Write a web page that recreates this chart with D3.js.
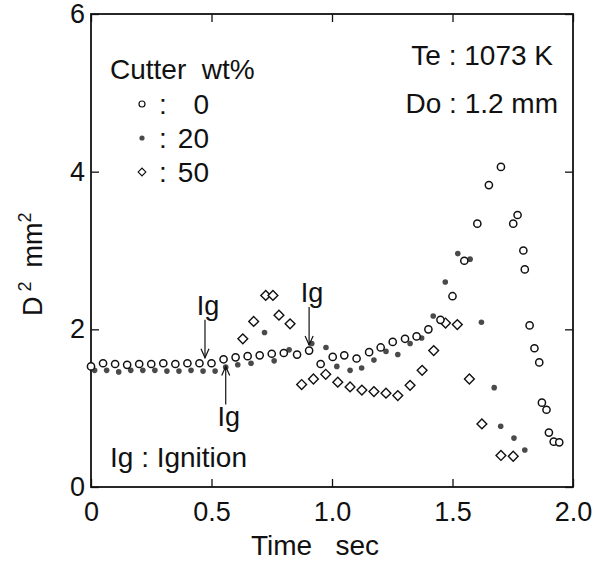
<!DOCTYPE html>
<html>
<head>
<meta charset="utf-8">
<script src="https://cdn.jsdelivr.net/npm/d3@7"></script>
<style>
  body { margin: 0; background: #fff; }
  svg text { font-family: "Liberation Sans", Arial, sans-serif; fill: #111; }
</style>
</head>
<body>
<div id="chart"></div>
<script>
// Data: time (sec) and D^2 (mm^2) for each cutter content
var cutter0Time = [0.0, 0.05, 0.1, 0.15, 0.2, 0.25, 0.3, 0.35, 0.4, 0.45, 0.5, 0.55, 0.6, 0.65, 0.7, 0.75, 0.8, 0.855, 0.905,
  0.953, 1.003, 1.051, 1.102, 1.154, 1.202, 1.252, 1.303, 1.351, 1.4, 1.45, 1.5, 1.549, 1.603, 1.651, 1.701, 1.752, 1.77,
  1.794, 1.8, 1.82, 1.84, 1.86, 1.871, 1.89, 1.9, 1.92, 1.943];
var cutter0D2 = [1.53, 1.57, 1.56, 1.55, 1.56, 1.56, 1.57, 1.56, 1.57, 1.57, 1.57, 1.62, 1.645, 1.66, 1.67, 1.69, 1.70, 1.68, 1.73,
  1.56, 1.65, 1.67, 1.63, 1.71, 1.77, 1.84, 1.88, 1.91, 2.0, 2.12, 2.42, 2.87, 3.34, 3.83, 4.06, 3.34, 3.45,
  3.0, 2.76, 2.05, 1.76, 1.58, 1.07, 0.98, 0.69, 0.575, 0.567];

var cutter20Time = [0.015, 0.065, 0.115, 0.165, 0.215, 0.265, 0.315, 0.365, 0.415, 0.465, 0.515, 0.559, 0.609, 0.664, 0.72, 0.76,
  0.822, 0.916, 0.975, 1.02, 1.075, 1.123, 1.174, 1.224, 1.273, 1.324, 1.372, 1.42, 1.47, 1.522, 1.573, 1.62, 1.673, 1.7,
  1.755, 1.8];
var cutter20D2 = [1.48, 1.48, 1.46, 1.48, 1.48, 1.48, 1.47, 1.47, 1.48, 1.47, 1.47, 1.52, 1.55, 1.57, 1.96, 1.60,
  1.74, 1.82, 1.77, 1.53, 1.48, 1.51, 1.61, 1.72, 1.68, 1.82, 1.89, 2.17, 2.60, 2.96, 2.89, 2.09, 1.26, 0.77,
  0.62, 0.47];

var cutter50Time = [0.63, 0.675, 0.725, 0.755, 0.78, 0.826, 0.874, 0.923, 0.974, 1.024, 1.075, 1.124, 1.174, 1.224, 1.273,
  1.324, 1.374, 1.422, 1.471, 1.52, 1.57, 1.622, 1.701, 1.752];
var cutter50D2 = [1.88, 2.10, 2.43, 2.43, 2.18, 2.07, 1.30, 1.37, 1.43, 1.33, 1.27, 1.23, 1.21, 1.19, 1.16,
  1.29, 1.48, 1.73, 2.08, 2.06, 1.37, 0.80, 0.40, 0.39];

// ignition marks: [time, D^2 at arrow tip, direction]
var ignitionTime = [0.473, 0.559, 0.905];
var ignitionD2 = [1.64, 1.53, 1.80];
var ignitionDir = ["down", "up", "down"];

var xTicks = [0, 0.5, 1.0, 1.5, 2.0];
var yTicks = [0, 2, 4, 6];

var svgWidth = 602;
var svgHeight = 567;

var margin = { top: 14, right: 29, bottom: 80, left: 91 };
var width = svgWidth - margin.left - margin.right;
var height = svgHeight - margin.top - margin.bottom;

var svg = d3.select("#chart")
  .append("svg")
  .attr("width", svgWidth)
  .attr("height", svgHeight);

var chartGroup = svg.append("g")
  .attr("transform", `translate(${margin.left}, ${margin.top})`);

var xScale = d3.scaleLinear().domain([0, 2]).range([0, width]);
var yScale = d3.scaleLinear().domain([0, 6]).range([height, 0]);

var fmtX = d => d === 0 ? "0" : d3.format(".1f")(d);

// axes with inward ticks
var bottomAxis = d3.axisBottom(xScale).tickValues(xTicks).tickFormat(fmtX)
  .tickSizeInner(-8).tickSizeOuter(0).tickPadding(15);
var topAxis = d3.axisTop(xScale).tickValues(xTicks).tickFormat("")
  .tickSizeInner(-8).tickSizeOuter(0);
var leftAxis = d3.axisLeft(yScale).tickValues(yTicks).tickFormat(d3.format("d"))
  .tickSizeInner(-8).tickSizeOuter(0).tickPadding(6);
var rightAxis = d3.axisRight(yScale).tickValues(yTicks).tickFormat("")
  .tickSizeInner(-8).tickSizeOuter(0);

function styleAxis(g) {
  g.select(".domain").remove();
  g.selectAll("line").attr("stroke", "#111").attr("stroke-width", 1.3);
  g.selectAll("text").attr("font-size", "27px").attr("fill", "#111")
    .style("font-family", "'Liberation Sans', Arial, sans-serif");
}

chartGroup.append("g").attr("transform", `translate(0, ${height})`).call(bottomAxis).call(styleAxis);
chartGroup.append("g").call(topAxis).call(styleAxis);
chartGroup.append("g").call(leftAxis).call(styleAxis);
chartGroup.append("g").attr("transform", `translate(${width}, 0)`).call(rightAxis).call(styleAxis);

// frame
chartGroup.append("rect")
  .attr("width", width)
  .attr("height", height)
  .attr("fill", "none")
  .attr("stroke", "#111")
  .attr("stroke-width", 1.8);

// series
var data0 = cutter0Time.map((t, i) => ({ t: t, v: cutter0D2[i] }));
var data20 = cutter20Time.map((t, i) => ({ t: t, v: cutter20D2[i] }));
var data50 = cutter50Time.map((t, i) => ({ t: t, v: cutter50D2[i] }));

var diamond = d3.symbol().type(d3.symbolSquare).size(48);

chartGroup.selectAll(".c50")
  .data(data50)
  .enter()
  .append("path")
  .attr("d", diamond)
  .attr("transform", d => `translate(${xScale(d.t)}, ${yScale(d.v)}) rotate(45)`)
  .attr("fill", "#fff")
  .attr("stroke", "#111")
  .attr("stroke-width", 1.4);

chartGroup.selectAll(".c20")
  .data(data20)
  .enter()
  .append("circle")
  .attr("cx", d => xScale(d.t))
  .attr("cy", d => yScale(d.v))
  .attr("r", 2.8)
  .attr("fill", "#4a4a4a");

chartGroup.selectAll(".c0")
  .data(data0)
  .enter()
  .append("circle")
  .attr("cx", d => xScale(d.t))
  .attr("cy", d => yScale(d.v))
  .attr("r", 3.6)
  .attr("fill", "#fff")
  .attr("stroke", "#111")
  .attr("stroke-width", 1.5);

// ignition arrows + labels
ignitionTime.forEach(function(t, i) {
  var ax = xScale(t);
  var tip = yScale(ignitionD2[i]);
  var sign = ignitionDir[i] === "down" ? -1 : 1;
  var tail = tip + sign * 38;
  var g = chartGroup.append("g").attr("stroke", "#111").attr("stroke-width", 1.2).attr("fill", "none");
  g.append("line").attr("x1", ax).attr("x2", ax).attr("y1", tail).attr("y2", tip);
  g.append("path").attr("d", `M${ax - 4},${tip + sign * 9} L${ax},${tip} L${ax + 4},${tip + sign * 9}`);
  chartGroup.append("text")
    .attr("x", ax + 3)
    .attr("y", ignitionDir[i] === "down" ? tail - 5 : tail + 22)
    .attr("text-anchor", "middle")
    .attr("font-size", "27px")
    .text("Ig");
});

// legend
svg.append("text").attr("x", 110).attr("y", 79).attr("font-size", "28px")
  .style("white-space", "pre").text("Cutter  wt%");

var legendY = [104, 138, 172];
var legendLab = ["0", "20", "50"];
svg.append("circle").attr("cx", 142).attr("cy", legendY[0]).attr("r", 3)
  .attr("fill", "#fff").attr("stroke", "#111").attr("stroke-width", 1.2);
svg.append("circle").attr("cx", 142).attr("cy", legendY[1]).attr("r", 2.6).attr("fill", "#4a4a4a");
svg.append("path").attr("d", d3.symbol().type(d3.symbolSquare).size(30))
  .attr("transform", `translate(142, ${legendY[2]}) rotate(45)`)
  .attr("fill", "#fff").attr("stroke", "#111").attr("stroke-width", 1.1);
legendLab.forEach(function(l, i) {
  svg.append("text").attr("x", 159).attr("y", legendY[i] + 10).attr("font-size", "28px").text(":");
  svg.append("text").attr("x", 209).attr("y", legendY[i] + 10).attr("font-size", "28px")
    .attr("text-anchor", "end").text(l);
});

// conditions
svg.append("text").attr("x", 553).attr("y", 65).attr("text-anchor", "end").attr("font-size", "28px").text("Te : 1073 K");
svg.append("text").attr("x", 558).attr("y", 113).attr("text-anchor", "end").attr("font-size", "28px").text("Do : 1.2 mm");
svg.append("text").attr("x", 110).attr("y", 467).attr("font-size", "28px").text("Ig : Ignition");

// axis titles
svg.append("text").attr("x", 315).attr("y", 555).attr("text-anchor", "middle").attr("font-size", "28px")
  .style("white-space", "pre").text("Time   sec");

var yTitle = svg.append("text")
  .attr("transform", "translate(42, 316) rotate(-90)")
  .attr("font-size", "27px");
yTitle.append("tspan").text("D");
yTitle.append("tspan").attr("dx", 5).attr("dy", -11).attr("font-size", "18px").text("2");
yTitle.append("tspan").attr("dx", 14).attr("dy", 11).text("mm");
yTitle.append("tspan").attr("dy", -11).attr("font-size", "18px").text("2");
</script>
</body>
</html>
